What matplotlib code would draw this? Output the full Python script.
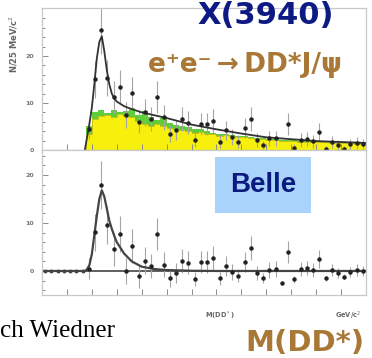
import numpy as np
import matplotlib
matplotlib.use("Agg")
import matplotlib.pyplot as plt

# 25 MeV bins of M(DD*) from 3.70 to 5.00 GeV/c^2
bin_lo, bin_w, n_bins = 3.70, 0.025, 52
centers = bin_lo + bin_w * (np.arange(n_bins) + 0.5)
edges = bin_lo + bin_w * np.arange(n_bins + 1)

# events per bin (upper panel), first 7 bins are below threshold
counts = [0, 0, 0, 0, 0, 0, 0,
          4.5, 15.0, 25.5, 15.3, 11.3, 13.4, 7.5, 12.1, 6.0, 8.0, 6.5,
          11.3, 7.0, 3.5, 4.3, 6.5, 5.8, 2.1, 5.6, 5.5, 6.2, 1.8, 4.2,
          2.8, 1.8, 4.6, 6.5, 2.2, 1.0, 2.5, 2.5, 0.0, 5.5, 0.5, 2.2,
          2.3, 1.9, 3.8, 0.3, 1.7, 1.1, 0.3, 1.2, 1.5, 1.3]

# background-subtracted yield (lower panel)
subtracted = [0, 0, 0, 0, 0, 0, 0,
              0.5, 8.1, 17.9, 9.6, 4.5, 7.7, 0.0, 5.2, -1.1, 2.1, 1.0,
              7.7, 1.3, -1.5, -0.4, 2.1, 1.7, -1.7, 1.9, 1.9, 2.7, -1.5, 1.0,
              -0.2, -1.0, 1.9, 4.8, -0.4, -1.5, 0.2, 0.4, -2.5, 4.0, -1.7, 0.4,
              0.6, 0.2, 2.5, -1.5, 0.2, -0.4, -1.2, -0.2, 0.2, 0.0]

# combinatorial background (yellow) and sideband estimate (green)
bkg_yellow = [0, 0, 0, 0, 0, 0, 0,
              3.5, 6.5, 7.2, 7.4, 7.0, 7.6, 7.3, 7.0, 6.2, 5.6, 5.2,
              5.6, 5.0, 4.6, 4.4, 4.2, 4.0, 3.6, 3.8, 3.5, 3.3, 3.0, 3.1,
              2.9, 2.7, 2.8, 2.6, 2.4, 2.3, 2.2, 2.2, 2.0, 1.9, 1.9, 1.8,
              1.7, 1.7, 1.6, 1.6, 1.5, 1.5, 1.4, 1.4, 1.3, 1.3]
bkg_green = [0, 0, 0, 0, 0, 0, 0,
             5.0, 8.0, 8.5, 7.8, 8.6, 8.0, 8.4, 9.0, 7.5, 8.2, 7.0,
             6.3, 6.8, 5.8, 5.4, 5.0, 4.8, 4.4, 4.5, 4.0, 3.6, 3.3, 3.4,
             3.1, 2.9, 3.0, 2.8, 2.6, 2.5, 2.4, 2.4, 2.2, 2.1, 2.1, 2.0,
             1.9, 1.9, 1.8, 1.8, 1.7, 1.7, 1.6, 1.6, 1.5, 1.5]

# fitted curves (signal + background, signal only)
fit_m = [3.70, 3.872, 3.88, 3.89, 3.90, 3.91, 3.92, 3.93, 3.94, 3.95, 3.96,
         3.97, 3.98, 3.99, 4.00, 4.03, 4.06, 4.10, 4.15, 4.20, 4.30, 4.40,
         4.50, 4.60, 4.70, 4.80, 4.90, 5.00]
fit_top = [0, 0, 2.5, 5.5, 9.0, 14.0, 19.5, 23.0, 24.2, 21.0, 17.0,
           14.0, 12.0, 11.0, 10.3, 9.3, 8.7, 8.0, 7.4, 6.8, 5.4, 4.4,
           3.5, 2.7, 2.3, 1.9, 1.7, 1.5]
fit_bot = [0, 0, 0.3, 1.2, 3.5, 7.5, 11.5, 15.0, 16.8, 15.5, 13.0,
           10.5, 8.8, 7.3, 6.0, 3.6, 2.0, 0.9, 0.4, 0.2, 0.05, 0,
           0, 0, 0, 0, 0, 0]

counts = np.array(counts)
subtracted = np.array(subtracted)
errors = np.sqrt(counts)

grey = "#8a8a8a"
fig = plt.figure(figsize=(3.72, 3.58), dpi=100)

ax1 = fig.add_axes([0.1129, 0.581, 0.871, 0.3966])
ax2 = fig.add_axes([0.1129, 0.176, 0.871, 0.405])

# upper panel: data with background histograms
ax1.fill_between(edges, np.append(bkg_green, bkg_green[-1]), step="post",
                 color="#5fcc3a", lw=0)
ax1.fill_between(edges, np.append(bkg_yellow, bkg_yellow[-1]), step="post",
                 color="#f7ef0c", lw=0)
ax1.step(edges, np.append(bkg_yellow, bkg_yellow[-1]), where="post",
         color="#b5b020", lw=0.5)
sel = counts > 0
ax1.errorbar(centers[sel], counts[sel], yerr=errors[sel], fmt="o", ms=2.2,
             color="#222222", ecolor="#a5a5a5", elinewidth=0.8, capsize=0)
# fit only drawn above the DD* threshold
ax1.plot(fit_m[1:], fit_top[1:], color="#333333", lw=1.3)

# lower panel: background subtracted
ax2.axhline(0, color="#444444", lw=1.2)
ax2.errorbar(centers[7:], subtracted[7:], yerr=errors[7:], fmt="o", ms=2.2,
             color="#222222", ecolor="#a5a5a5", elinewidth=0.8, capsize=0)
ax2.plot(centers[:7], subtracted[:7], "o", ms=1.8, color="#444444")
ax2.plot(fit_m, fit_bot, color="#444444", lw=1.6)

for ax, ylim in ((ax1, (0, 30.2)), (ax2, (-5.0, 25.2))):
    ax.set_xticks(np.arange(3.8, 5.0, 0.1))
    ax.set_xticklabels([])
    ax.set_yticks([0, 10, 20])
    ax.set_yticks(np.arange(-4, 30, 2), minor=True)
    ax.set_xlim(3.70, 5.00)
    ax.set_ylim(*ylim)
    ax.tick_params(axis="both", which="both", direction="in", colors=grey,
                   labelsize=4.5, width=0.7, top=False, right=False)
    ax.tick_params(axis="y", which="major", length=4, pad=6)
    ax.tick_params(axis="y", which="minor", length=2)
    ax.tick_params(axis="x", length=4)
    for lab in ax.get_yticklabels():
        lab.set_fontweight("bold")
        lab.set_color("#777777")
    for s in ax.spines.values():
        s.set_color("#c8c8c8")
        s.set_linewidth(0.9)

fig.text(0.037, 0.878, "N/25 MeV/c$^2$", rotation=90, ha="center", va="center",
         fontsize=6, color="#666666", fontweight="bold")
fig.text(0.59, 0.118, "M(DD$^*$)", ha="center", va="center", fontsize=4.8,
         color="#666666", fontweight="bold")
fig.text(0.935, 0.118, "GeV/c$^2$", ha="center", va="center", fontsize=4.8,
         color="#666666", fontweight="bold")

# annotations on top of the plot
fig.text(0.53, (358 - 24) / 358, "X(3940)", ha="left", va="baseline",
         fontsize=22, color="#0d1a84", fontweight="bold")
fig.text(0.397, (358 - 72) / 358, "e⁺e⁻\u2009→\u2009DD*J/ψ", ha="left",
         va="baseline", fontsize=19, color="#a97836", fontweight="bold")
fig.text(0.707, (358 - 185) / 358, "Belle", ha="center", va="center",
         fontsize=20, color="#0b1a7e", fontweight="bold",
         family="Liberation Sans",
         bbox=dict(boxstyle="square,pad=0.55", facecolor="#a9d3fb",
                   edgecolor="none"))
fig.text(0.66, (358 - 351) / 358, "M(DD*)", ha="left", va="baseline",
         fontsize=21, color="#a97836", fontweight="bold")
fig.text(0.0, (358 - 337) / 358, "ch Wiedner", ha="left", va="baseline",
         fontsize=18, color="black", family="Liberation Serif")

fig.savefig("out.png", dpi=100)
